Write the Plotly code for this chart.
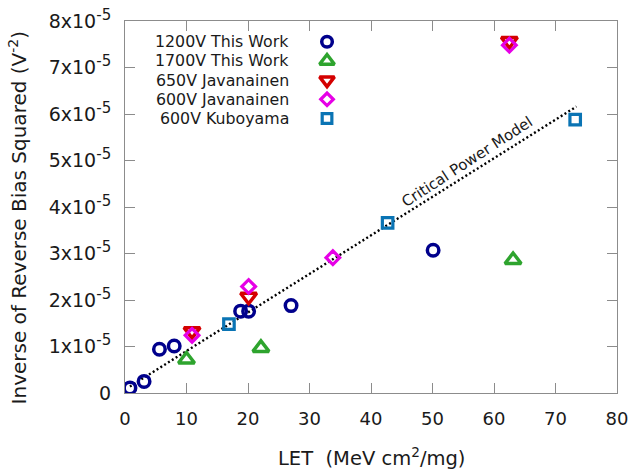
import plotly.graph_objects as go

# ---- data ----
let_1200 = [0.8, 3.1, 5.6, 8.0, 18.8, 20.1, 27.0, 50.1]
inv_1200 = [0.11e-5, 0.25e-5, 0.94e-5, 1.01e-5, 1.76e-5, 1.76e-5, 1.88e-5, 3.07e-5]

let_1700 = [10.0, 22.1, 63.1]
inv_1700 = [0.72e-5, 0.97e-5, 2.86e-5]

let_650j = [10.9, 20.1, 62.5]
inv_650j = [1.33e-5, 2.07e-5, 7.57e-5]

let_600j = [10.9, 20.1, 33.8, 62.5]
inv_600j = [1.24e-5, 2.29e-5, 2.91e-5, 7.48e-5]

let_600k = [16.9, 42.7, 73.2]
inv_600k = [1.48e-5, 3.66e-5, 5.88e-5]

model_let = [0.8, 73.4]
model_inv = [0.14e-5, 6.16e-5]

series_names = ["1200V This Work", "1700V This Work", "650V Javanainen",
                "600V Javanainen", "600V Kuboyama"]
series_symbols = ["circle-open", "triangle-up-open", "triangle-down-open",
                  "diamond-open", "square-open"]
series_colors = ["#00008c", "#2ea42e", "#d40000", "#e600e6", "#0a74b4"]
series_sizes = [11.5, 14, 14, 10.5, 10.5]
series_lw = [3.5, 3.5, 3.5, 3.2, 3.2]

x_ticks = [0, 10, 20, 30, 40, 50, 60, 70, 80]
y_ticks = [0, 1e-5, 2e-5, 3e-5, 4e-5, 5e-5, 6e-5, 7e-5, 8e-5]
y_ticktext = ["0"] + [
    f"{i}x10<sup><span style='font-size:15px'>-5</span></sup>" for i in range(1, 9)]

FONT = "DejaVu Sans"
TXT = "#1a1a1a"

fig = go.Figure()

fig.add_trace(go.Scatter(x=model_let, y=model_inv, mode="lines",
                         line=dict(color="black", width=2.4, dash="2px,2.5px"),
                         showlegend=False, hoverinfo="skip"))

data = [(let_1200, inv_1200), (let_1700, inv_1700), (let_650j, inv_650j),
        (let_600j, inv_600j), (let_600k, inv_600k)]
for (xs, ys), name, sym, col, sz, lw in zip(data, series_names, series_symbols,
                                            series_colors, series_sizes, series_lw):
    fig.add_trace(go.Scatter(x=xs, y=ys, mode="markers", name=name,
                             marker=dict(symbol=sym, size=sz, color=col,
                                         line=dict(width=lw, color=col)),
                             showlegend=False))

# custom legend (text left, symbol right) on a hidden overlay axis
leg_x_sym = 0.4106
leg_x_txt = 0.3374
leg_y0 = 0.944
leg_dy = 0.0515
for i, (name, sym, col, sz, lw) in enumerate(zip(series_names, series_symbols,
                                                 series_colors, series_sizes,
                                                 series_lw)):
    yy = leg_y0 - i * leg_dy
    fig.add_trace(go.Scatter(x=[leg_x_sym], y=[yy], mode="markers",
                             xaxis="x2", yaxis="y2",
                             marker=dict(symbol=sym, size=sz * 0.92, color=col,
                                         line=dict(width=lw, color=col)),
                             showlegend=False, hoverinfo="skip"))
    fig.add_annotation(x=leg_x_txt, y=yy, xref="paper", yref="paper",
                       text=name, showarrow=False, xanchor="right",
                       yanchor="middle",
                       font=dict(family=FONT, size=15.8, color=TXT))

fig.add_annotation(x=55.6, y=4.97e-5, text="Critical Power Model",
                   showarrow=False, textangle=-33,
                   xanchor="center", yanchor="middle",
                   font=dict(family=FONT, size=15, color=TXT))

# axis titles
fig.add_annotation(x=-0.2175, y=0.472, xref="paper", yref="paper",
                   text="Inverse of Reverse Bias Squared (V<sup>-2</sup>)",
                   textangle=-90, showarrow=False,
                   xanchor="center", yanchor="middle",
                   font=dict(family=FONT, size=20, color=TXT))
fig.add_annotation(x=0.5, y=-0.171, xref="paper", yref="paper",
                   text="LET  (MeV cm<sup>2</sup>/mg)", showarrow=False,
                   xanchor="center", yanchor="middle",
                   font=dict(family=FONT, size=19.5, color=TXT))

axis_common = dict(showgrid=False, zeroline=False, showline=True,
                   linecolor="#8c8c8c", linewidth=1, mirror="ticks",
                   ticks="inside", ticklen=10, tickcolor="#8c8c8c",
                   tickwidth=1, automargin=False)

fig.update_layout(
    width=632, height=470,
    margin=dict(l=125, r=15, t=21, b=77),
    paper_bgcolor="white", plot_bgcolor="white",
    font=dict(family=FONT, color=TXT),
    xaxis=dict(range=[0, 80], tickvals=x_ticks,
               tickfont=dict(family=FONT, size=18, color=TXT),
               ticklabelstandoff=9,
               **axis_common),
    yaxis=dict(range=[0, 8e-5], tickvals=y_ticks, ticktext=y_ticktext,
               tickfont=dict(family=FONT, size=19, color=TXT),
               ticklabelstandoff=9,
               **axis_common),
    xaxis2=dict(overlaying="x", range=[0, 1], visible=False),
    yaxis2=dict(overlaying="y", range=[0, 1], visible=False),
)

fig.write_html("out.html", config={"displayModeBar": False},
               post_script="document.body.style.margin='0';"
                           "document.body.style.overflow='hidden';")
